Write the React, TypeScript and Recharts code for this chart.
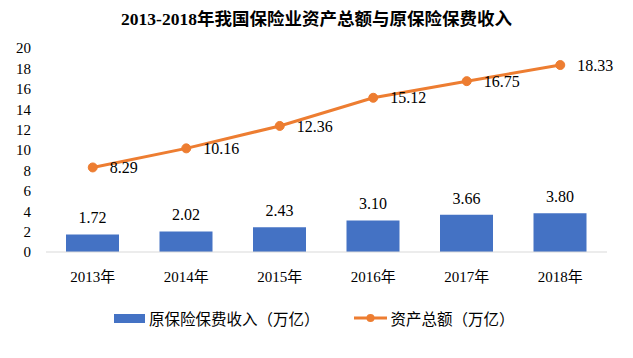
import { Bar, ComposedChart, Line, XAxis, YAxis, LabelList } from "recharts"

const years = ["2013年", "2014年", "2015年", "2016年", "2017年", "2018年"]
const premium = [1.72, 2.02, 2.43, 3.1, 3.66, 3.8]
const assets = [8.29, 10.16, 12.36, 15.12, 16.75, 18.33]
const yTicks = [0, 2, 4, 6, 8, 10, 12, 14, 16, 18, 20]

const data = years.map((year, i) => ({ year, premium: premium[i], assets: assets[i] }))

const serif = '"Liberation Serif", "Times New Roman", "Noto Sans CJK SC", serif'
const blue = "#4472C4"
const orange = "#ED7D31"

export default function App() {
  return (
    <div style={{ position: "absolute", left: 0, top: 0, width: 633, height: 358, background: "#fff", fontFamily: serif }}>
      <div
        style={{
          position: "absolute",
          left: 0,
          top: 7,
          width: 633,
          textAlign: "center",
          fontSize: 17.5,
          fontWeight: "bold",
          color: "#000",
          lineHeight: "24px",
        }}
      >
        2013-2018年我国保险业资产总额与原保险保费收入
      </div>
      <ComposedChart width={633} height={358} data={data} margin={{ top: 48, right: 26, left: 0, bottom: 0 }}>
        <XAxis
          dataKey="year"
          height={106}
          tickLine={false}
          axisLine={{ stroke: "#d9d9d9" }}
          tick={{ fill: "#000", fontSize: 15, fontFamily: serif }}
          tickMargin={13}
        />
        <YAxis
          width={46}
          domain={[0, 20]}
          ticks={yTicks}
          interval={0}
          axisLine={false}
          tickLine={false}
          tick={{ fill: "#000", fontSize: 15, fontFamily: serif }}
          tickMargin={9}
        />
        <Bar dataKey="premium" fill={blue} barSize={53} isAnimationActive={false}>
          <LabelList
            dataKey="premium"
            position="top"
            offset={11}
            formatter={(v: number) => v.toFixed(2)}
            style={{ fill: "#000", fontSize: 16, fontFamily: serif }}
          />
        </Bar>
        <Line
          dataKey="assets"
          stroke={orange}
          strokeWidth={3}
          dot={{ r: 4.5, fill: orange, stroke: orange, strokeWidth: 1 }}
          activeDot={false}
          isAnimationActive={false}
        >
          <LabelList
            dataKey="assets"
            position="right"
            offset={17}
            formatter={(v: number) => v.toFixed(2)}
            style={{ fill: "#000", fontSize: 16, fontFamily: serif }}
          />
        </Line>
      </ComposedChart>
      <div
        style={{
          position: "absolute",
          left: 114,
          top: 308,
          height: 20,
          display: "flex",
          alignItems: "center",
          fontSize: 15.5,
          color: "#000",
          whiteSpace: "nowrap",
        }}
      >
        <span style={{ display: "inline-block", width: 31, height: 9, background: blue, marginRight: 4 }} />
        <span>原保险保费收入（万亿）</span>
        <svg width={33} height={10} style={{ marginLeft: 34, marginRight: 4 }}>
          <line x1={0} y1={5} x2={33} y2={5} stroke={orange} strokeWidth={3} />
          <circle cx={16.5} cy={5} r={4} fill={orange} />
        </svg>
        <span>资产总额（万亿）</span>
      </div>
    </div>
  )
}
